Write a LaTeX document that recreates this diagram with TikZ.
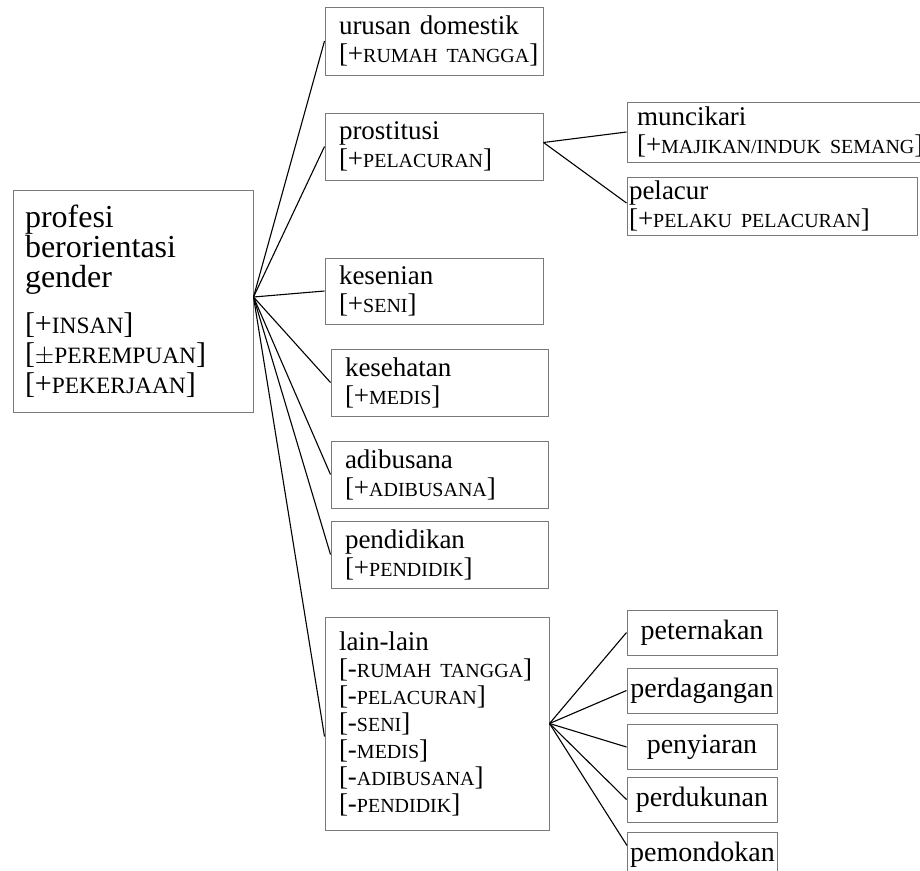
\documentclass[tikz,border=0pt]{standalone}
\usepackage{fontspec}
\setmainfont{Liberation Serif}
\newfontfamily\capsfont{Liberation Serif}[Scale=0.74]
\newfontfamily\rootcapsfont{Liberation Serif}[Scale=0.78]
\usetikzlibrary{positioning}
\definecolor{boxgrey}{HTML}{7a7a7a}
\newcommand\feat[2]{\mbox{[#1{\capsfont #2}]}}
\newcommand\rootfeat[2]{\mbox{\fontsize{30}{30}\selectfont[#1{\rootcapsfont #2}]}}
\tikzset{
  genbox/.style={
    draw=boxgrey, line width=1pt, align=left,
    inner xsep=14pt, inner ysep=0pt,
    font=\fontsize{27}{28}\selectfont},
  genbox_root/.style={
    genbox, inner xsep=12pt, font=\fontsize{32}{30}\selectfont},
  genbox_leaf/.style={
    genbox, align=center, inner xsep=2pt, text width=146pt,
    minimum height=45pt, font=\fontsize{28}{30}\selectfont},
  genline/.style={line width=1.1pt, black},
}

\begin{document}
\begin{tikzpicture}[x=1pt, y=-1pt]
  \useasboundingbox (0,0) rectangle (920,870);
  % root
  \node[genbox_root, text width=216pt, minimum height=222pt] (root) at (133,301)
    {profesi\\berorientasi\\gender\\[16pt]\rootfeat{+}{INSAN}\\\rootfeat{$\pm$}{PEREMPUAN}\\\rootfeat{+}{PEKERJAAN}};
  % first level
  \node[genbox, text width=190pt, minimum height=68pt] (urusan) at (434,41)
    {urusan domestik\\\feat{+}{RUMAH TANGGA}};
  \node[genbox, text width=190pt, minimum height=67pt] (prost) at (434,146.5)
    {prostitusi\\\feat{+}{PELACURAN}};
  \node[genbox, text width=190pt, minimum height=66pt] (seni) at (434,291)
    {kesenian\\\feat{+}{SENI}};
  \node[genbox, text width=189pt, minimum height=67pt] (sehat) at (439.5,382.5)
    {kesehatan\\\feat{+}{MEDIS}};
  \node[genbox, text width=189pt, minimum height=67pt] (busana) at (439.5,474.5)
    {adibusana\\\feat{+}{ADIBUSANA}};
  \node[genbox, text width=189pt, minimum height=67pt] (didik) at (439.5,554.5)
    {pendidikan\\\feat{+}{PENDIDIK}};
  \node[genbox, text width=196pt, minimum height=213pt,
        font=\fontsize{27}{27}\selectfont] (lain) at (437,723.5)
    {lain-lain\\\feat{-}{RUMAH TANGGA}\\\feat{-}{PELACURAN}\\\feat{-}{SENI}\\\feat{-}{MEDIS}\\\feat{-}{ADIBUSANA}\\\feat{-}{PENDIDIK}};
  % second level
  \node[genbox, inner xsep=10pt, text width=288pt, minimum height=60pt] (mucikari) at (781,132)
    {muncikari\\\feat{+}{MAJIKAN/INDUK SEMANG}};
  \node[genbox, inner xsep=2pt, text width=286pt, minimum height=58pt] (pelacur) at (772,206)
    {pelacur\\\feat{+}{PELAKU PELACURAN}};
  \node[genbox_leaf] (ternak) at (702,632.5) {peternakan};
  \node[genbox_leaf] (dagang) at (702,690.5) {perdagangan};
  \node[genbox_leaf] (siar)   at (702,747)   {penyiaran};
  \node[genbox_leaf] (dukun)  at (702,799.5) {perdukunan};
  \node[genbox_leaf] (pondok) at (702.5,854.5) {pemondokan};
  % connectors
  \foreach \kid in {urusan,prost,seni,sehat,busana,didik}
    \draw[genline] ([yshift=4pt]root.east) -- (\kid.west);
  \draw[genline] ([yshift=4pt]root.east) -- ([yshift=-13pt]lain.west);
  \draw[genline] ([yshift=4pt]prost.east) -- (mucikari.west);
  \draw[genline] ([yshift=4pt]prost.east) -- ([yshift=3pt]pelacur.west);
  \foreach \kid in {ternak,dagang,siar,dukun}
    \draw[genline] (lain.east) -- (\kid.west);
  \draw[genline] (lain.east) -- ([yshift=9pt]pondok.west);
\end{tikzpicture}
\end{document}
